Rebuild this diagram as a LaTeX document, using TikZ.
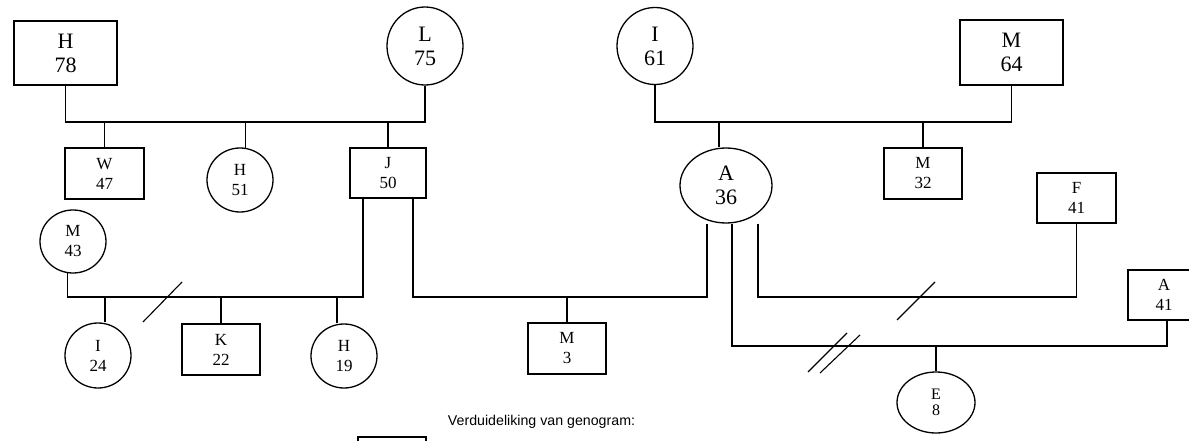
\documentclass[tikz,border=0pt]{standalone}
\usepackage{fontspec}
\setmainfont{Liberation Serif}
\newfontfamily\legendfont{Liberation Sans}
\usetikzlibrary{shapes.geometric}
\begin{document}
\begin{tikzpicture}[x=1pt,y=-1pt,line width=1.3pt,
  lg/.style={font=\fontsize{22}{24}\selectfont},
  md/.style={font=\fontsize{17}{20}\selectfont},
  sm/.style={font=\fontsize{16}{16}\selectfont},
  boxnode/.style={draw,rectangle,inner sep=0pt,align=center},
  circnode/.style={draw,ellipse,inner sep=0pt,align=center},
  bigbox/.style={boxnode,lg,minimum width=103pt,minimum height=64pt},
  bigcirc/.style={circnode,lg,minimum width=76pt,minimum height=78pt},
  midbox/.style={boxnode,md,minimum width=79pt,minimum height=51pt},
  midcirc/.style={circnode,md,minimum width=66pt,minimum height=64pt},
  slash/.style={line width=1.1pt}]
\fill[white] (0,0) rectangle (1189,441);
\useasboundingbox (0,0) rectangle (1189,441);
% generation 1
\node[bigbox] (h78) at (65.5,53) {H\\78};
\node[bigcirc] (l75) at (425,46) {L\\75};
\node[bigcirc, minimum height=77pt] (i61) at (655,46) {I\\61};
\node[bigbox, minimum height=65pt] (m64) at (1011.5,52.5) {M\\64};
% generation 2
\node[midbox] (w47) at (104.5,173.5) {W\\47};
\node[midcirc] (h51) at (240,180) {H\\51};
\node[midbox, minimum width=76pt, minimum height=50pt] (j50) at (388,173) {J\\50};
\node[midbox, minimum width=78pt] (m32) at (923,173.5) {M\\32};
\node[circnode, lg, minimum width=92pt, minimum height=75pt] (a36) at (726,185.5) {A\\36};
\node[midbox, minimum height=50pt] (f41) at (1076.5,198) {F\\41};
\node[midcirc, minimum height=63pt] (m43) at (73,241.5) {M\\43};
\node[midbox, minimum width=72pt, minimum height=50pt] (a41) at (1164,295) {A\\41};
% generation 3
\node[midcirc, minimum height=65pt] (i24) at (98,355.5) {I\\24};
\node[midbox, minimum width=78pt] (k22) at (221,349.5) {K\\22};
\node[midcirc] (h19) at (344,356) {H\\19};
\node[midbox, minimum width=78pt] (m3) at (567,348.5) {M\\3};
\node[circnode, sm, minimum width=78pt, minimum height=61pt] (e8) at (936,402.5) {E\\8};
% legend
\node[anchor=west, font=\legendfont\fontsize{14.2}{16}\selectfont] (legtxt) at (444,422) {Verduideliking van genogram:};
\node[boxnode, minimum width=68pt, minimum height=30pt] (key) at (392,452) {};
% line levels
\coordinate (y1) at (0,122);
\coordinate (y2) at (0,297);
\coordinate (y3) at (0,346);
% helper anchor points
\coordinate (a36n) at ([xshift=-7pt]a36.north);
\coordinate (a36l) at ([xshift=-19pt]a36.south);
\coordinate (a36m) at ([xshift=6pt]a36.south);
\coordinate (a36r) at ([xshift=32pt]a36.south);
\coordinate (j50l) at ([xshift=-25pt]j50.south);
\coordinate (j50r) at ([xshift=25pt]j50.south);
\coordinate (i24n) at ([xshift=7pt]i24.north);
\coordinate (h19n) at ([xshift=-7pt]h19.north);
\coordinate (a41d) at ([xshift=3pt]a41.south);
% left grandparents
\draw (h78.south) -- (h78.south |- y1) -| (l75.south);
\draw (w47.north) -- (w47.north |- y1);
\draw (h51.80) -- (h51.80 |- y1);
\draw (j50.north) -- (j50.north |- y1);
% right grandparents
\draw (i61.south) -- (i61.south |- y1) -| (m64.south);
\draw (a36n) -- (a36n |- y1);
\draw (m32.north) -- (m32.north |- y1);
% M43 -- J50
\draw (m43.260) -- (m43.260 |- y2) -| (j50l);
\draw (i24n) -- (i24n |- y2);
\draw (k22.north) -- (k22.north |- y2);
\draw (h19n) -- (h19n |- y2);
\draw[slash] (143,322) -- (182,282);
% J50 -- A36
\draw (j50r) -- (j50r |- y2) -| (a36l);
\draw (m3.north) -- (m3.north |- y2);
% A36 -- F41
\draw (a36r) -- (a36r |- y2) -| (f41.south);
\draw[slash] (897,320) -- (935,282);
% A36 -- A41
\draw (a36m) -- (a36m |- y3) -| (a41d);
\draw (e8.north) -- (e8.north |- y3);
\draw[slash] (808,372) -- (847,333);
\draw[slash] (820,373) -- (860,335);
\end{tikzpicture}
\end{document}
